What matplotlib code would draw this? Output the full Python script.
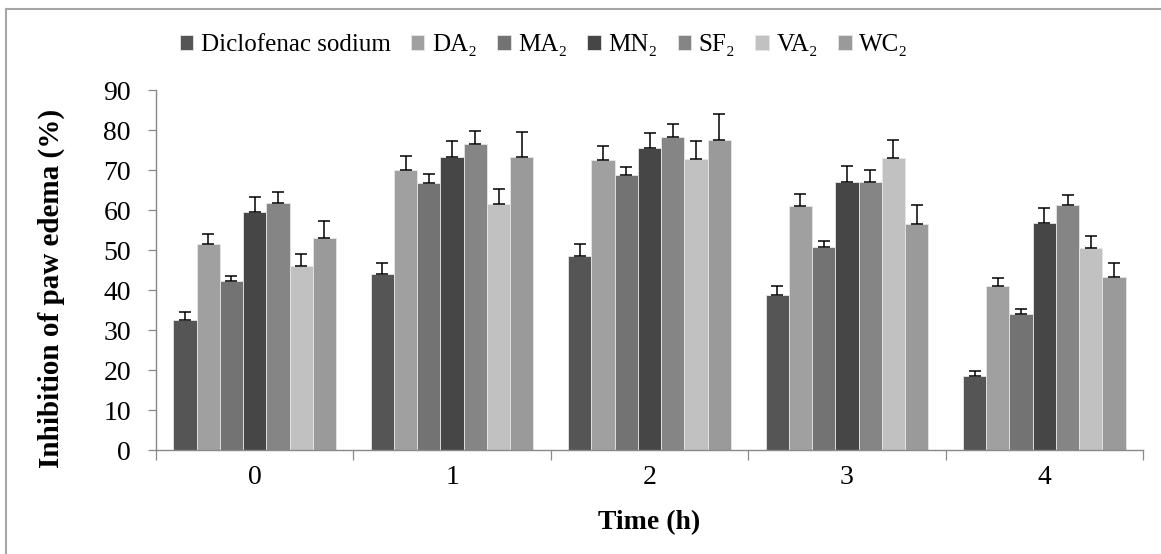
import matplotlib
matplotlib.use("Agg")
import matplotlib.pyplot as plt
from matplotlib.lines import Line2D
import numpy as np

plt.rcParams['font.family'] = ['Liberation Serif', 'DejaVu Serif']

times = ["0", "1", "2", "3", "4"]
series = ["Diclofenac sodium", "DA₂", "MA₂", "MN₂", "SF₂", "VA₂", "WC₂"]
colors = ["#555555", "#a0a0a0", "#737373", "#464646", "#858585", "#c1c1c1", "#9a9a9a"]

diclofenac = [32.5, 44.0, 48.4, 38.8, 18.5]
da2 = [51.5, 70.1, 72.5, 61.0, 40.9]
ma2 = [42.2, 66.8, 68.8, 50.7, 34.0]
mn2 = [59.4, 73.3, 75.5, 67.1, 56.8]
sf2 = [61.8, 76.6, 78.3, 67.1, 61.2]
va2 = [46.1, 61.5, 72.8, 73.0, 50.4]
wc2 = [53.1, 73.3, 77.5, 56.5, 43.2]

diclofenac_err = [2.1, 2.8, 3.0, 2.3, 1.3]
da2_err = [2.6, 3.5, 3.6, 3.1, 2.2]
ma2_err = [1.3, 2.1, 2.0, 1.6, 1.2]
mn2_err = [3.9, 3.9, 3.8, 3.8, 3.8]
sf2_err = [2.6, 3.1, 3.3, 2.8, 2.5]
va2_err = [2.9, 3.8, 4.4, 4.5, 3.2]
wc2_err = [4.2, 6.1, 6.4, 4.7, 3.5]

values = [diclofenac, da2, ma2, mn2, sf2, va2, wc2]
errors = [diclofenac_err, da2_err, ma2_err, mn2_err, sf2_err, va2_err, wc2_err]

W, H = 1161, 554
fig = plt.figure(figsize=(W / 100, H / 100), dpi=100)
ax = fig.add_axes([156 / W, 1 - 450 / H, (1143 - 156) / W, (450 - 90) / H])

n = len(series)
bw = 1.0 / (n + 1.5)
x = np.arange(len(times))
for i, (name, vals, errs, c) in enumerate(zip(series, values, errors, colors)):
    pos = x + (i - (n - 1) / 2) * bw
    ax.bar(pos, vals, width=bw, color=c, edgecolor="#e6e6e6", linewidth=0.6,
           label=name, zorder=2)
    ax.errorbar(pos, vals, yerr=[np.zeros(len(errs)), errs], fmt="none",
                ecolor="black", elinewidth=1.1, capsize=4.0, capthick=1.1, zorder=3)

ax.set_xlim(-0.5, len(times) - 0.5)
ax.set_ylim(0, 90)
ax.set_yticks(np.arange(0, 91, 10))
ax.set_xticks(x)
ax.set_xticklabels(times)
ax.set_xticks(np.arange(-0.5, len(times), 1.0), minor=True)
ax.tick_params(axis="x", which="major", length=0, pad=11, labelsize=20)
ax.tick_params(axis="x", which="minor", length=7, width=0.9, color="#898989", direction="out")
ax.tick_params(axis="y", length=6, width=0.9, color="#898989", labelsize=20, pad=12)

for s in ["top", "right"]:
    ax.spines[s].set_visible(False)
for s in ["left", "bottom"]:
    ax.spines[s].set_color("#898989")
    ax.spines[s].set_linewidth(1.0)

ax.set_ylabel("Inhibition of paw edema (%)", fontsize=21, fontweight="bold", labelpad=22)
ax.yaxis.set_label_coords(-0.092, 0.45)
ax.set_xlabel("Time (h)", fontsize=20, fontweight="bold", labelpad=14)

leg = fig.legend(loc="center", bbox_to_anchor=(544 / W, 1 - 45 / H), ncol=7, frameon=False,
                 fontsize=18, handlelength=0.55, handleheight=0.55, handletextpad=0.3,
                 columnspacing=0.8)

# outer chart border (top and left visible)
fig.add_artist(Line2D([6 / W, 6 / W], [0, 1 - 9 / H], transform=fig.transFigure,
                      color="#a6a6a6", linewidth=1.5))
fig.add_artist(Line2D([6 / W, 1], [1 - 9 / H, 1 - 9 / H], transform=fig.transFigure,
                      color="#a6a6a6", linewidth=1.5))

fig.savefig("out.png", dpi=100)
